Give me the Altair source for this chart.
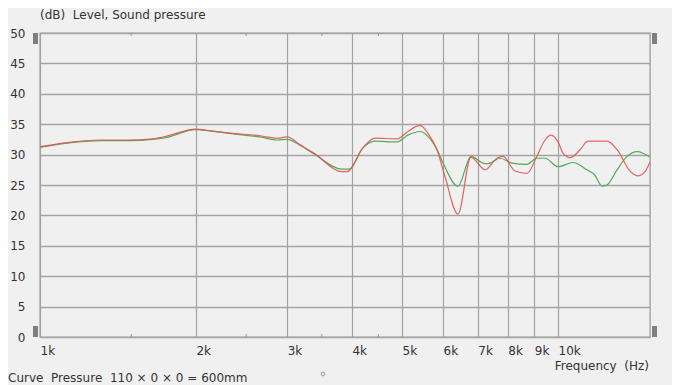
import altair as alt
import pandas as pd

# ---- data (frequency in Hz, level in dB) ----
red_freq_k = [1.0, 1.16, 1.31, 1.48, 1.65, 1.73, 2.0, 2.13, 2.36, 2.66, 2.87, 3.0, 3.18, 3.37,
              3.83, 3.92, 4.2, 4.43, 4.89, 5.13, 5.42, 5.61, 5.84, 6.05, 6.41, 6.79, 7.23, 7.62,
              7.83, 8.26, 8.71, 9.1, 9.44, 9.69, 10.0, 10.23, 10.55, 11.03, 11.42, 12.43, 13.0,
              13.8, 14.27, 14.72, 15.05]
red_db = [31.3, 32.1, 32.4, 32.4, 32.6, 32.9, 34.2, 33.9, 33.5, 33.1, 32.7, 32.9, 31.6, 30.3,
          27.2, 27.2, 31.1, 32.7, 32.6, 33.8, 34.8, 33.5, 30.8, 26.4, 20.2, 29.6, 27.5, 29.4,
          29.7, 27.3, 26.9, 29.7, 32.4, 33.2, 32.1, 30.2, 29.5, 30.8, 32.2, 32.2, 30.8,
          27.2, 26.5, 27.2, 28.8]

green_freq_k = [1.0, 1.16, 1.31, 1.48, 1.65, 1.73, 2.0, 2.13, 2.36, 2.66, 2.87, 3.0, 3.18, 3.37,
                3.83, 3.95, 4.2, 4.43, 4.89, 5.13, 5.42, 5.61, 5.84, 6.0, 6.41, 6.79, 7.23, 7.39,
                7.73, 8.15, 8.71, 9.1, 9.44, 10.0, 10.69, 11.37, 11.78, 12.16, 12.43, 13.0, 13.59,
                14.21, 15.05]
green_db = [31.2, 32.0, 32.3, 32.3, 32.5, 32.7, 34.1, 33.9, 33.4, 32.9, 32.4, 32.5, 31.5, 30.2,
            27.6, 27.6, 31.1, 32.2, 32.1, 33.2, 33.8, 33.0, 30.8, 28.6, 24.8, 29.7, 28.5, 28.6,
            29.4, 28.6, 28.4, 29.4, 29.4, 28.0, 28.7, 27.5, 26.6, 24.8, 25.0, 27.5, 29.7,
            30.5, 29.6]

major_ticks = [1000, 2000, 3000, 4000, 5000, 6000, 7000, 8000, 9000, 10000]
minor_ticks = [1500, 2500, 3500, 4500]
y_ticks = [0, 5, 10, 15, 20, 25, 30, 35, 40, 45, 50]

NB = "\u00a0"
title_text = "(dB)" + NB * 2 + "Level, Sound pressure"
xlabel_text = "Frequency" + NB * 2 + "(Hz)"
footer_text = "Curve" + NB * 2 + "Pressure" + NB * 2 + "110 × 0 × 0 = 600mm"

W, H = 610, 304
FONT = "DejaVu Sans"
GRID = "#a3a3a3"
TXT = "#333333"

red_df = pd.DataFrame({"f": [v * 1000 for v in red_freq_k], "db": red_db})
green_df = pd.DataFrame({"f": [v * 1000 for v in green_freq_k], "db": green_db})

xscale = alt.Scale(type="log", domain=[1000, 15050], nice=False)
yscale = alt.Scale(domain=[0, 50], nice=False)

xaxis = alt.Axis(values=major_ticks, labelExpr="datum.value/1000 + 'k'", grid=True,
                 gridColor=GRID, gridWidth=1.2, domain=False, ticks=False,
                 labelAlign="left", labelBaseline="top", labelPadding=8,
                 labelFont=FONT, labelFontSize=12, labelColor=TXT, title=None,
                 labelFlush=False, labelOverlap=False)
yaxis = alt.Axis(values=y_ticks, tickCount=11, grid=True, gridColor=GRID, gridWidth=1.4,
                 domain=False, ticks=False, labelPadding=15, labelFont=FONT, labelFontSize=12,
                 labelColor=TXT, title=None, labelOverlap=False, labelFlush=False)

X = alt.X("f:Q", scale=xscale, axis=xaxis)
Y = alt.Y("db:Q", scale=yscale, axis=yaxis)

base_green = alt.Chart(green_df).mark_line(color="#56ab56", strokeWidth=1.2, interpolate="monotone").encode(
    x=X, y=Y)
red_line = alt.Chart(red_df).mark_line(color="#e35353", strokeWidth=1.2, interpolate="monotone", opacity=0.9).encode(
    x=X, y=Y)

minor_df = pd.DataFrame({"f": minor_ticks})
minor_top = alt.Chart(minor_df).mark_rule(color="#999999", strokeWidth=1).encode(
    x=X, y=alt.value(0), y2=alt.value(3))
minor_bot = alt.Chart(minor_df).mark_rule(color="#999999", strokeWidth=1).encode(
    x=X, y=alt.value(H - 3), y2=alt.value(H))

# scroll handle markers on the edges
def handle(x0, y0):
    return alt.Chart(pd.DataFrame({"k": [1]})).mark_rect(color="#7f7f7f").encode(
        x=alt.value(x0), x2=alt.value(x0 + 5), y=alt.value(y0), y2=alt.value(y0 + 11))

handles = [handle(-7, 0), handle(-7, H - 11), handle(W + 2, 0), handle(W + 2, H - 11)]

def label(txt, x, y, align="left", baseline="middle"):
    return alt.Chart(pd.DataFrame({"t": [txt]})).mark_text(
        align=align, baseline=baseline, font=FONT, fontSize=12, color=TXT
    ).encode(text="t:N", x=alt.value(x), y=alt.value(y))

title_mark = label(title_text, 0, -23, baseline="top")
xlabel_mark = label(xlabel_text, W - 1, 333, align="right")
footer_mark = label(footer_text, -32, 352, baseline="bottom")

dot = alt.Chart(pd.DataFrame({"k": [1]})).mark_point(
    shape="circle", size=14, stroke="#777777", strokeWidth=1, filled=False
).encode(x=alt.value(283), y=alt.value(341))

chart = alt.layer(
    base_green, red_line, minor_top, minor_bot, *handles, title_mark, xlabel_mark, footer_mark, dot
).properties(
    width=W, height=H,
    autosize=alt.AutoSizeParams(type="none"),
    padding={"left": 32, "top": 25, "right": 22, "bottom": 48},
    background="#f0f0f0",
).configure_view(
    stroke=GRID, strokeWidth=1.4, fill="#f0f0f0"
)

chart.save("out.html", embed_options={"renderer": "svg", "actions": False})
